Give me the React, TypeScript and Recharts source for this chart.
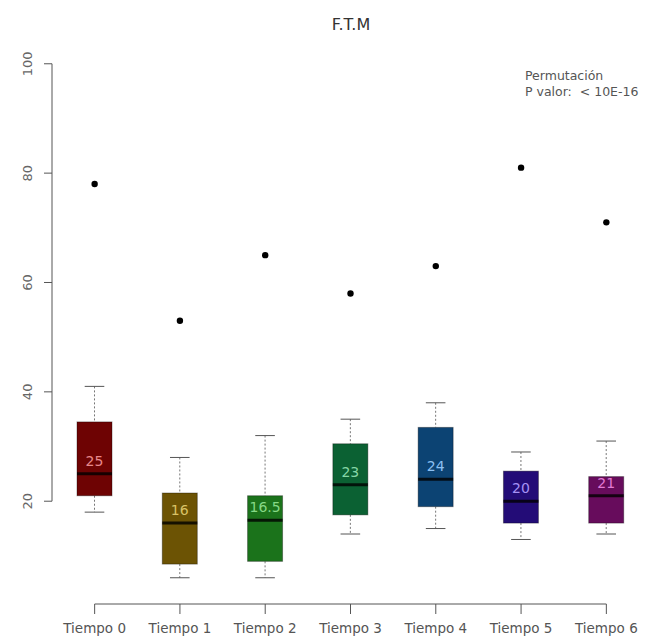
import React from "react";
import {
  Bar,
  ComposedChart,
  ReferenceLine,
  Scatter,
  XAxis,
  YAxis,
} from "recharts";

const categories = [
  "Tiempo 0",
  "Tiempo 1",
  "Tiempo 2",
  "Tiempo 3",
  "Tiempo 4",
  "Tiempo 5",
  "Tiempo 6",
];
const lowWhisker = [18, 6, 6, 14, 15, 13, 14];
const q1 = [21, 8.5, 9, 17.5, 19, 16, 16];
const medians = [25, 16, 16.5, 23, 24, 20, 21];
const q3 = [34.5, 21.5, 21, 30.5, 33.5, 25.5, 24.5];
const highWhisker = [41, 28, 32, 35, 38, 29, 31];
const outliers = [78, 53, 65, 58, 63, 81, 71];
const yTicks = [20, 40, 60, 80, 100];
const xTicks = categories.map((_, i) => i);

const boxColors = [
  "#6e0303",
  "#6c5304",
  "#1b731b",
  "#0b6133",
  "#0c4373",
  "#230c77",
  "#670c5c",
];
const labelColors = [
  "#e8898b",
  "#d9c267",
  "#86d886",
  "#86d6a6",
  "#8cc0f2",
  "#a592f4",
  "#e27ad4",
];

const FONT = "'DejaVu Sans', sans-serif";
const AXIS = "#555";

const data = categories.map((name, i) => ({
  name,
  idx: i,
  lo: lowWhisker[i],
  q1: q1[i],
  med: medians[i],
  q3: q3[i],
  hi: highWhisker[i],
  out: outliers[i],
}));

// box body comes from the [q1, q3] range bar; the rest is placed on the same linear scale
function BoxShape(props: any) {
  const { x, y, width, height, payload } = props;
  if (height == null || !payload) return null;
  const perUnit = height / (payload.q3 - payload.q1);
  const toY = (v: number) => y + (payload.q3 - v) * perUnit;
  const cx = x + width / 2;
  const capHalf = width * 0.28;
  const medY = toY(payload.med);
  return (
    <g>
      <line x1={cx} x2={cx} y1={toY(payload.hi)} y2={y} stroke="#777" strokeDasharray="2 2" />
      <line x1={cx} x2={cx} y1={y + height} y2={toY(payload.lo)} stroke="#777" strokeDasharray="2 2" />
      <line x1={cx - capHalf} x2={cx + capHalf} y1={toY(payload.hi)} y2={toY(payload.hi)} stroke="#555" />
      <line x1={cx - capHalf} x2={cx + capHalf} y1={toY(payload.lo)} y2={toY(payload.lo)} stroke="#555" />
      <rect
        x={x}
        y={y}
        width={width}
        height={height}
        fill={boxColors[payload.idx]}
        stroke="rgba(0,0,0,0.35)"
      />
      <line x1={x} x2={x + width} y1={medY} y2={medY} stroke="rgba(0,0,0,0.8)" strokeWidth={3} />
      <text
        x={cx}
        y={medY - 13}
        textAnchor="middle"
        dominantBaseline="central"
        fontFamily={FONT}
        fontSize={14}
        fill={labelColors[payload.idx]}
      >
        {payload.med}
      </text>
    </g>
  );
}

function Dot(props: any) {
  const { cx, cy } = props;
  return <circle cx={cx} cy={cy} r={3.2} fill="#000" />;
}

function YTick(props: any) {
  const { x, y, payload } = props;
  const bx = x - 10;
  return (
    <text
      x={bx}
      y={y}
      transform={`rotate(-90 ${bx} ${y})`}
      textAnchor="middle"
      fontFamily={FONT}
      fontSize={13}
      fill="#666"
    >
      {payload.value}
    </text>
  );
}

export default function App() {
  return (
    <div
      style={{
        position: "absolute",
        left: 0,
        top: 0,
        width: 647,
        height: 641,
        overflow: "hidden",
        background: "#fff",
        fontFamily: FONT,
      }}
    >
      <ComposedChart
        width={660}
        height={641}
        data={data}
        margin={{ top: 43, right: 11, bottom: 0, left: 0 }}
      >
        <XAxis
          dataKey="idx"
          type="number"
          domain={[-0.5, 6.5]}
          allowDataOverflow
          ticks={xTicks}
          tickFormatter={(i: number) => categories[i]}
          height={37}
          axisLine={false}
          tickLine={{ stroke: AXIS }}
          tickSize={10}
          tickMargin={9}
          interval={0}
          tick={{ fill: "#555", fontSize: 13.5, fontFamily: FONT }}
        />
        <YAxis
          width={52}
          type="number"
          domain={[1.2, 103.8]}
          allowDataOverflow
          ticks={yTicks}
          axisLine={false}
          tickLine={{ stroke: AXIS }}
          tickSize={8}
          tick={<YTick />}
        />
        <ReferenceLine
          ifOverflow="visible"
          segment={[
            { x: -0.5, y: 20 },
            { x: -0.5, y: 100 },
          ]}
          stroke={AXIS}
        />
        <ReferenceLine
          ifOverflow="visible"
          segment={[
            { x: 0, y: 1.2 },
            { x: 6, y: 1.2 },
          ]}
          stroke={AXIS}
        />
        <Bar
          dataKey={(d: any) => [d.q1, d.q3]}
          barSize={35}
          shape={<BoxShape />}
          isAnimationActive={false}
        />
        <Scatter dataKey="out" shape={<Dot />} isAnimationActive={false} />
      </ComposedChart>
      <div
        style={{
          position: "absolute",
          left: 251,
          top: 16,
          width: 200,
          textAlign: "center",
          fontSize: 16,
          lineHeight: "18px",
          color: "#333",
        }}
      >
        F.T.M
      </div>
      <div
        style={{
          position: "absolute",
          left: 525,
          top: 68,
          fontSize: 12.5,
          lineHeight: "16px",
          color: AXIS,
          whiteSpace: "pre",
        }}
      >
        {"Permutación\nP valor:  < 10E-16"}
      </div>
    </div>
  );
}
